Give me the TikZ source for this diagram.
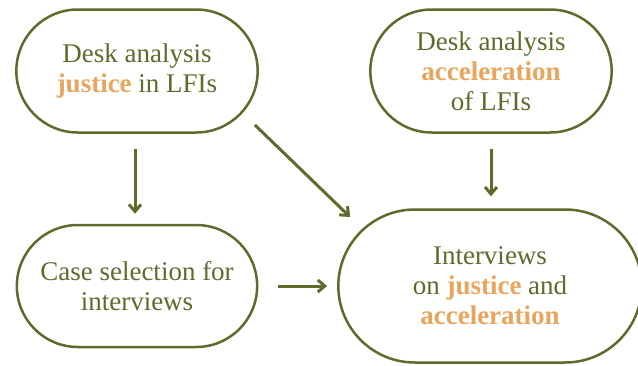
\documentclass[tikz,border=0pt]{standalone}
\usepackage{fontspec}
\setmainfont{Liberation Serif}
\usetikzlibrary{shapes.misc,arrows.meta}
\definecolor{leafgreen}{HTML}{5E6B2B}
\definecolor{peach}{HTML}{E9A55C}
\newcommand{\kw}[1]{\textcolor{peach}{\bfseries #1}}
\tikzset{
	stage/.style={rounded rectangle, draw=leafgreen, line width=2.5pt, text=leafgreen,
		align=center, font=\fontsize{27}{30}\selectfont},
	flow/.style={draw=leafgreen, line width=3pt, -{Straight Barb[length=7pt,width=12pt]}}
}

\begin{document}
\begin{tikzpicture}[x=1pt,y=-1pt]

					\clip (0,0) rectangle (638,365);

					\node[stage, minimum width=248pt, minimum height=123pt] (deskjust) at (137,71)
						{Desk analysis\\\kw{justice} in LFIs};
					\node[stage, minimum width=248pt, minimum height=123pt] (deskacc) at (491,71)
						{Desk analysis\\\kw{acceleration}\\of LFIs};
					\node[stage, minimum width=247pt, minimum height=122pt] (casesel) at (137,286)
						{Case selection for\\interviews};
					\node[stage, minimum width=310pt, minimum height=153pt] (interv) at (490,286)
						{Interviews\\on \kw{justice} and\\\kw{acceleration}};

					\coordinate (diagstart) at ([shift={(-4,54)}]deskjust.east);
					\coordinate (diagend) at ([shift={(13,-69)}]interv.west);

					\draw[flow, shorten <=15pt, shorten >=10pt] ([xshift=-2pt]deskjust.south) -- ([xshift=-2pt]casesel.north);
					\draw[flow] (diagstart) -- (diagend);
					\draw[flow, shorten <=15pt, shorten >=12pt] (deskacc.south) -- (deskacc.south |- interv.north);
					\draw[flow, shorten <=20pt, shorten >=10pt] (casesel.east) -- (interv.west);

\end{tikzpicture}
\end{document}
